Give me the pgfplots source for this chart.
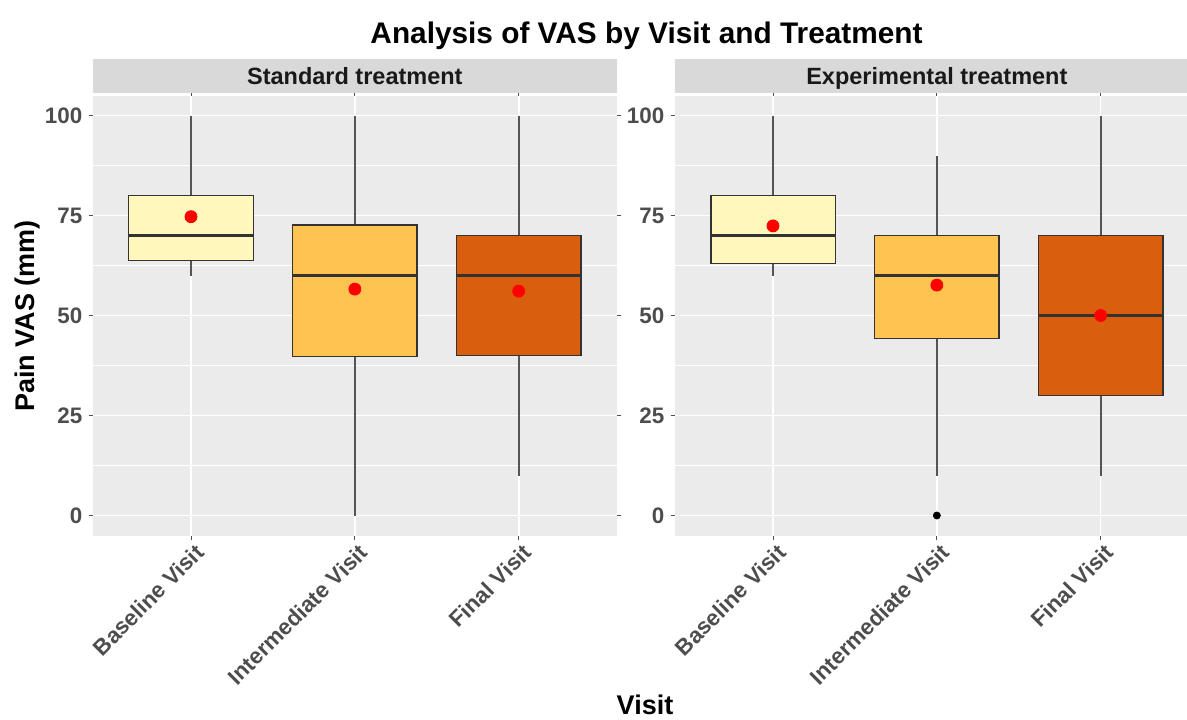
\documentclass[border=0pt]{standalone}
\usepackage{fontspec}
\setmainfont{Liberation Sans}
\usepackage{pgfplots}
\pgfplotsset{compat=1.18}
\usepgfplotslibrary{statistics}
\definecolor{panelbg}{HTML}{EBEBEB}
\definecolor{stripbg}{HTML}{D9D9D9}
\definecolor{c1}{HTML}{FFF7BC}
\definecolor{c2}{HTML}{FEC44F}
\definecolor{c3}{HTML}{D95F0E}
\definecolor{tickc}{HTML}{4D4D4D}
\definecolor{boxline}{HTML}{333333}
\definecolor{whiskc}{HTML}{555555}
\definecolor{meanc}{HTML}{FF0000}
\pgfplotsset{
  facet/.style={
    scale only axis,
    height=220pt,
    ymin=-5, ymax=105, xmin=0.4,
    axis background/.style={fill=panelbg},
    axis line style={draw=none},
    xmajorgrids, ymajorgrids, yminorgrids,
    major grid style={white, line width=0.8pt},
    minor grid style={white, line width=0.4pt},
    ytick={0,25,50,75,100},
    minor ytick={12.5,37.5,62.5,87.5},
    xtick={1,2,3},
    xticklabels={Baseline Visit, Intermediate Visit, Final Visit},
    tick align=outside,
    major tick length=2pt,
    minor tick length=0pt,
    tick style={tickc, line width=0.5pt},
    ticklabel style={font=\fontsize{11.2}{13}\selectfont\bfseries, text=tickc},
    xticklabel style={rotate=45, anchor=north east, inner sep=0.5pt, yshift=-1.5pt, xshift=0.5pt},
    yticklabel style={anchor=east, inner sep=0.5pt, xshift=-2.5pt},
    /pgf/number format/assume math mode=true,
  },
  bx/.style={boxplot prepared={#1},
    boxplot/draw direction=y,
    boxplot/box extend=0.76,
    boxplot/whisker extend=0,
    boxplot/every median/.style={line width=1.5pt, draw=boxline},
    boxplot/every whisker/.style={line width=1pt, draw=whiskc},
    boxplot/every box/.style={line width=0.75pt, draw=boxline},
    solid},
}
\begin{document}
\begin{tikzpicture}
\useasboundingbox (0,0) rectangle (593.5pt,359.5pt);
% Left panel
\begin{axis}[facet, at={(46.35pt,91.75pt)}, anchor=south west, width=262.15pt, xmax=3.6]
\addplot[bx={lower whisker=60, lower quartile=63.75, median=70, upper quartile=80, upper whisker=100, draw position=1}, fill=c1] coordinates {};
\addplot[bx={lower whisker=0, lower quartile=39.75, median=60, upper quartile=72.6, upper whisker=100, draw position=2}, fill=c2] coordinates {};
\addplot[bx={lower whisker=10, lower quartile=40, median=60, upper quartile=70, upper whisker=100, draw position=3}, fill=c3] coordinates {};
\addplot[only marks, mark=*, mark size=3pt, color=meanc] coordinates {(1,74.7) (2,56.6) (3,56.1)};
\end{axis}
% Right panel
\begin{axis}[facet, at={(337.35pt,91.75pt)}, anchor=south west, width=256.15pt, xmax=3.527]
\addplot[bx={lower whisker=60, lower quartile=63, median=70, upper quartile=80, upper whisker=100, draw position=1}, fill=c1] coordinates {};
\addplot[bx={lower whisker=10, lower quartile=44.3, median=60, upper quartile=70, upper whisker=90, draw position=2}, fill=c2] coordinates {};
\addplot[bx={lower whisker=10, lower quartile=30, median=50, upper quartile=70, upper whisker=100, draw position=3}, fill=c3] coordinates {};
\addplot[only marks, mark=*, mark size=1.75pt, color=black] coordinates {(2,0)};
\addplot[only marks, mark=*, mark size=3pt, color=meanc] coordinates {(1,72.4) (2,57.6) (3,50)};
\end{axis}
% strips
\fill[stripbg] (46.35pt,312.85pt) rectangle (308.5pt,329.85pt);
\fill[stripbg] (337.35pt,312.85pt) rectangle (593.5pt,329.85pt);
\node[anchor=base, text=black!90, font=\fontsize{11.75}{13}\selectfont\bfseries, inner sep=0pt] at (177.43pt,317.25pt) {Standard treatment};
\node[anchor=base, text=black!90, font=\fontsize{11.75}{13}\selectfont\bfseries, inner sep=0pt] at (468.43pt,317.25pt) {Experimental treatment};
% titles
\node[anchor=base, font=\fontsize{14.9}{17}\selectfont\bfseries, inner sep=0pt] at (323.25pt,337.5pt) {Analysis of VAS by Visit and Treatment};
\node[anchor=base, rotate=90, font=\fontsize{13.5}{15}\selectfont\bfseries, inner sep=0pt] at (17pt,201.5pt) {Pain VAS (mm)};
\node[anchor=base, font=\fontsize{13.5}{15}\selectfont\bfseries, inner sep=0pt] at (322.5pt,2.5pt) {Visit};
\end{tikzpicture}
\end{document}
